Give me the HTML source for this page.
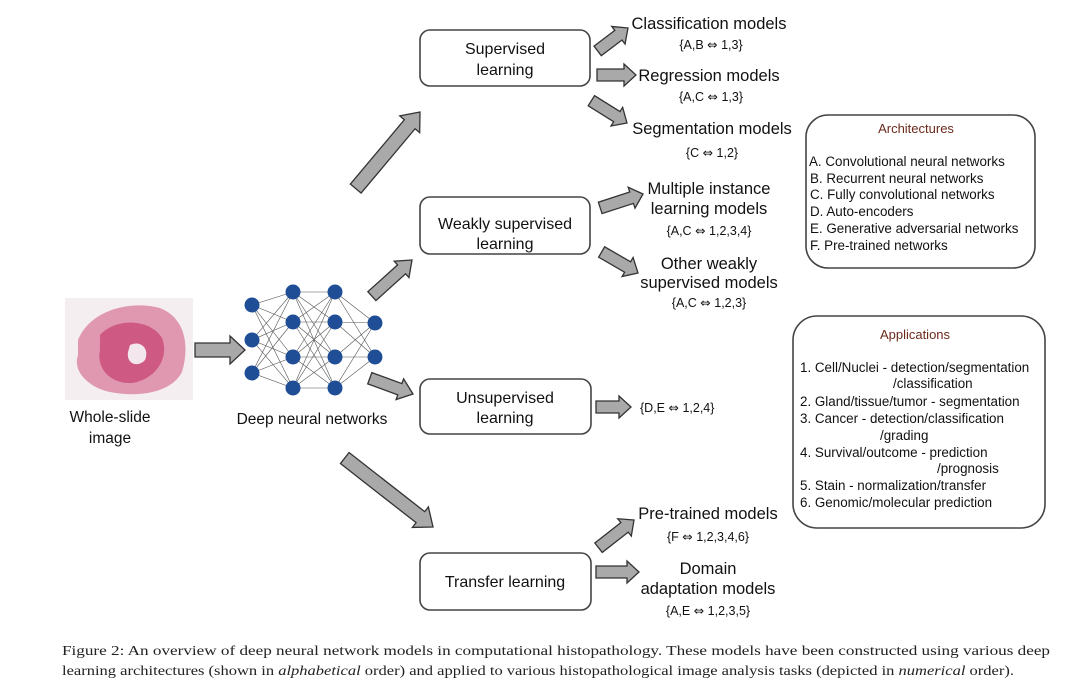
<!DOCTYPE html>
<html><head><meta charset="utf-8"><style>
html,body{margin:0;padding:0;background:#fff}
svg{display:block}
.t{font-family:"Liberation Sans",sans-serif;fill:#111}
.c{font-family:"Liberation Serif",serif;fill:#222;font-size:13.5px}
.a{fill:#a9a9a9;stroke:#333;stroke-width:1.3;stroke-linejoin:miter}
.b{fill:#fff;stroke:#444;stroke-width:1.6}
.e{stroke:#555;stroke-width:0.6}
.n{fill:#1f4e96}
.d{font-family:"DejaVu Sans",sans-serif}
</style></head><body>
<svg width="1080" height="694" viewBox="0 0 1080 694" xmlns="http://www.w3.org/2000/svg">
<rect width="1080" height="694" fill="#fff"/>
<!-- slide image -->
<rect x="65" y="298" width="128" height="102" fill="#f4eef0"/>
<path d="M78,340 C90,310 130,300 160,308 C185,318 190,345 182,372 C172,392 140,398 110,392 C90,388 72,372 78,355 Z" fill="#dc88a6" opacity="0.85"/>
<path d="M100,335 C115,318 150,318 162,338 C170,358 155,380 132,383 C110,384 96,368 100,350 Z" fill="#c94a78" opacity="0.8"/>
<path d="M130,345 C140,340 150,348 145,360 C138,368 126,364 128,352 Z" fill="#f3e6ec"/>
<text class="t" x="110" y="422" font-size="15.5" text-anchor="middle">Whole-slide</text>
<text class="t" x="110" y="443" font-size="15.5" text-anchor="middle">image</text>
<!-- network edges -->
<g class="e">
<line x1="252" y1="305" x2="293" y2="292"/><line x1="252" y1="305" x2="293" y2="322"/><line x1="252" y1="305" x2="293" y2="357"/><line x1="252" y1="305" x2="293" y2="388"/>
<line x1="252" y1="340" x2="293" y2="292"/><line x1="252" y1="340" x2="293" y2="322"/><line x1="252" y1="340" x2="293" y2="357"/><line x1="252" y1="340" x2="293" y2="388"/>
<line x1="252" y1="373" x2="293" y2="292"/><line x1="252" y1="373" x2="293" y2="322"/><line x1="252" y1="373" x2="293" y2="357"/><line x1="252" y1="373" x2="293" y2="388"/>
<line x1="293" y1="292" x2="335" y2="292"/><line x1="293" y1="292" x2="335" y2="322"/><line x1="293" y1="292" x2="335" y2="357"/><line x1="293" y1="292" x2="335" y2="388"/>
<line x1="293" y1="322" x2="335" y2="292"/><line x1="293" y1="322" x2="335" y2="322"/><line x1="293" y1="322" x2="335" y2="357"/><line x1="293" y1="322" x2="335" y2="388"/>
<line x1="293" y1="357" x2="335" y2="292"/><line x1="293" y1="357" x2="335" y2="322"/><line x1="293" y1="357" x2="335" y2="357"/><line x1="293" y1="357" x2="335" y2="388"/>
<line x1="293" y1="388" x2="335" y2="292"/><line x1="293" y1="388" x2="335" y2="322"/><line x1="293" y1="388" x2="335" y2="357"/><line x1="293" y1="388" x2="335" y2="388"/>
<line x1="335" y1="292" x2="375" y2="323"/><line x1="335" y1="292" x2="375" y2="357"/>
<line x1="335" y1="322" x2="375" y2="323"/><line x1="335" y1="322" x2="375" y2="357"/>
<line x1="335" y1="357" x2="375" y2="323"/><line x1="335" y1="357" x2="375" y2="357"/>
<line x1="335" y1="388" x2="375" y2="323"/><line x1="335" y1="388" x2="375" y2="357"/>
</g>
<g class="n">
<circle cx="252" cy="305" r="7.5"/><circle cx="252" cy="340" r="7.5"/><circle cx="252" cy="373" r="7.5"/>
<circle cx="293" cy="292" r="7.5"/><circle cx="293" cy="322" r="7.5"/><circle cx="293" cy="357" r="7.5"/><circle cx="293" cy="388" r="7.5"/>
<circle cx="335" cy="292" r="7.5"/><circle cx="335" cy="322" r="7.5"/><circle cx="335" cy="357" r="7.5"/><circle cx="335" cy="388" r="7.5"/>
<circle cx="375" cy="323" r="7.5"/><circle cx="375" cy="357" r="7.5"/>
</g>
<text class="t" x="312" y="424" font-size="15.5" text-anchor="middle">Deep neural networks</text>
<!-- arrows -->
<polygon class="a" transform="translate(245,350)" points="0,0 -15,-14 -15,-7 -50,-7 -50,7 -15,7 -15,14"/>
<polygon class="a" transform="translate(420,112) rotate(-50)" points="0,0 -16,-13 -16,-7 -100,-7 -100,7 -16,7 -16,13"/>
<polygon class="a" transform="translate(412,260) rotate(-42)" points="0,0 -14,-11 -14,-6 -54,-6 -54,6 -14,6 -14,11"/>
<polygon class="a" transform="translate(413,394) rotate(20)" points="0,0 -14,-11 -14,-6 -46,-6 -46,6 -14,6 -14,11"/>
<polygon class="a" transform="translate(433,527) rotate(38)" points="0,0 -16,-13 -16,-7 -112,-7 -112,7 -16,7 -16,13"/>
<polygon class="a" transform="translate(628,28) rotate(-37)" points="0,0 -12,-11 -12,-6 -38,-6 -38,6 -12,6 -12,11"/>
<polygon class="a" transform="translate(636,75)" points="0,0 -12,-11 -12,-6 -39,-6 -39,6 -12,6 -12,11"/>
<polygon class="a" transform="translate(627,123) rotate(32)" points="0,0 -12,-11 -12,-6 -42,-6 -42,6 -12,6 -12,11"/>
<polygon class="a" transform="translate(643,194) rotate(-18)" points="0,0 -12,-11 -12,-6 -45,-6 -45,6 -12,6 -12,11"/>
<polygon class="a" transform="translate(638,273) rotate(30)" points="0,0 -12,-11 -12,-6 -42,-6 -42,6 -12,6 -12,11"/>
<polygon class="a" transform="translate(631,407)" points="0,0 -12,-11 -12,-6 -35,-6 -35,6 -12,6 -12,11"/>
<polygon class="a" transform="translate(634,520) rotate(-38)" points="0,0 -12,-11 -12,-6 -45,-6 -45,6 -12,6 -12,11"/>
<polygon class="a" transform="translate(639,572)" points="0,0 -12,-11 -12,-6 -43,-6 -43,6 -12,6 -12,11"/>
<!-- learning boxes -->
<rect class="b" x="420" y="30" width="170" height="56" rx="10"/>
<text class="t" x="505" y="54" font-size="16" text-anchor="middle">Supervised</text>
<text class="t" x="505" y="75" font-size="16" text-anchor="middle">learning</text>
<rect class="b" x="420" y="197" width="170" height="57" rx="10"/>
<text class="t" x="505" y="229" font-size="16" text-anchor="middle">Weakly supervised</text>
<text class="t" x="505" y="249" font-size="16" text-anchor="middle">learning</text>
<rect class="b" x="420" y="379" width="171" height="55" rx="10"/>
<text class="t" x="505" y="403" font-size="16" text-anchor="middle">Unsupervised</text>
<text class="t" x="505" y="423" font-size="16" text-anchor="middle">learning</text>
<rect class="b" x="420" y="553" width="171" height="57" rx="10"/>
<text class="t" x="505" y="587" font-size="16" text-anchor="middle">Transfer learning</text>
<!-- model labels -->
<g class="t" text-anchor="middle">
<text x="709" y="29" font-size="16.5">Classification models</text>
<text x="711" y="49" font-size="12.5">{A,B <tspan class="d">⇔</tspan> 1,3}</text>
<text x="709" y="81" font-size="16.5">Regression models</text>
<text x="711" y="101" font-size="12.5">{A,C <tspan class="d">⇔</tspan> 1,3}</text>
<text x="712" y="134" font-size="16.5">Segmentation models</text>
<text x="712" y="157" font-size="12.5">{C <tspan class="d">⇔</tspan> 1,2}</text>
<text x="709" y="194" font-size="16.5">Multiple instance</text>
<text x="709" y="214" font-size="16.5">learning models</text>
<text x="709" y="235" font-size="12.5">{A,C <tspan class="d">⇔</tspan> 1,2,3,4}</text>
<text x="709" y="269" font-size="16.5">Other weakly</text>
<text x="709" y="288" font-size="16.5">supervised models</text>
<text x="709" y="307" font-size="12.5">{A,C <tspan class="d">⇔</tspan> 1,2,3}</text>
<text x="708" y="519" font-size="16.5">Pre-trained models</text>
<text x="708" y="541" font-size="12.5">{F <tspan class="d">⇔</tspan> 1,2,3,4,6}</text>
<text x="708" y="574" font-size="16.5">Domain</text>
<text x="708" y="594" font-size="16.5">adaptation models</text>
<text x="708" y="615" font-size="12.5">{A,E <tspan class="d">⇔</tspan> 1,2,3,5}</text>
</g>
<text class="t" x="640" y="412" font-size="12.5">{D,E <tspan class="d">⇔</tspan> 1,2,4}</text>
<!-- Architectures -->
<rect class="b" x="806" y="115" width="229" height="153" rx="22"/>
<text x="916" y="133" font-size="13" text-anchor="middle" font-family="Liberation Sans,sans-serif" fill="#6b2a1a">Architectures</text>
<g class="t" font-size="13.4">
<text x="809" y="166">A. Convolutional neural networks</text>
<text x="810" y="183">B. Recurrent neural networks</text>
<text x="810" y="199">C. Fully convolutional networks</text>
<text x="810" y="216">D. Auto-encoders</text>
<text x="810" y="233">E. Generative adversarial networks</text>
<text x="810" y="250">F. Pre-trained networks</text>
</g>
<!-- Applications -->
<rect class="b" x="793" y="316" width="252" height="212" rx="24"/>
<text x="915" y="339" font-size="13" text-anchor="middle" font-family="Liberation Sans,sans-serif" fill="#6b2a1a">Applications</text>
<g class="t" font-size="13.4">
<text x="800" y="372">1. Cell/Nuclei - detection/segmentation</text>
<text x="893" y="388">/classification</text>
<text x="800" y="406">2. Gland/tissue/tumor - segmentation</text>
<text x="800" y="423">3. Cancer - detection/classification</text>
<text x="880" y="440">/grading</text>
<text x="800" y="457">4. Survival/outcome - prediction</text>
<text x="937" y="473">/prognosis</text>
<text x="800" y="490">5. Stain - normalization/transfer</text>
<text x="800" y="507">6. Genomic/molecular prediction</text>
</g>
<!-- caption -->
<text class="c" x="62" y="655" textLength="988" lengthAdjust="spacingAndGlyphs">Figure 2: An overview of deep neural network models in computational histopathology. These models have been constructed using various deep</text>
<text class="c" x="62" y="675" textLength="952" lengthAdjust="spacingAndGlyphs">learning architectures (shown in <tspan font-style="italic">alphabetical</tspan> order) and applied to various histopathological image analysis tasks (depicted in <tspan font-style="italic">numerical</tspan> order).</text>
</svg>
</body></html>
